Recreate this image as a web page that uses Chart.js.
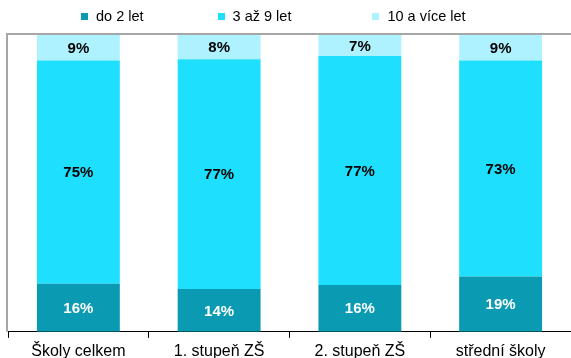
<!DOCTYPE html>
<html><head><meta charset="utf-8">
<script src="https://cdn.jsdelivr.net/npm/chart.js@4.4.0/dist/chart.umd.min.js"></script>
<style>
html,body{margin:0;padding:0;background:#fff;}
#wrap{position:relative;width:571px;height:358px;}
#legend{position:absolute;top:8px;left:81px;display:flex;align-items:center;font-family:"Liberation Sans",Arial,sans-serif;font-size:14.5px;color:#000;}
#legend .it{display:flex;align-items:center;margin-right:74px;}
#legend .it:nth-child(2){margin-right:81px;}
#legend .bx{width:7px;height:7px;margin-right:8px;}
</style></head>
<body><div id="wrap"><canvas id="c" width="571" height="358"></canvas><div id="legend"></div></div>
<script>
const categories = ["Školy celkem", "1. stupeň ZŠ", "2. stupeň ZŠ", "střední školy"];
const seriesNames = ["do 2 let", "3 až 9 let", "10 a více let"];
const do2let = [16.2, 14.4, 15.8, 18.6];
const let3az9 = [75.2, 77.4, 77.1, 72.8];
const let10plus = [8.6, 8.2, 7.1, 8.6];
const colors = ["#0A9BB2", "#1FDFFF", "#AEF2FF"];
const labelColors = ["#ffffff", "#000000", "#000000"];

const leg = document.getElementById('legend');
seriesNames.forEach((n, i) => {
  const it = document.createElement('div'); it.className = 'it';
  const b = document.createElement('div'); b.className = 'bx'; b.style.background = colors[i];
  const t = document.createElement('span'); t.textContent = n;
  it.appendChild(b); it.appendChild(t); leg.appendChild(it);
});

const frame = {
  id: 'frame',
  afterDatasetsDraw(chart) {
    const {ctx, chartArea: a} = chart;
    ctx.save();
    ctx.strokeStyle = '#A6A6A6'; ctx.lineWidth = 2;
    ctx.beginPath();
    ctx.moveTo(a.left - 1, a.bottom); ctx.lineTo(a.left - 1, a.top - 1); ctx.lineTo(a.right, a.top - 1);
    ctx.stroke();
    ctx.restore();
    ctx.save();
    ctx.font = 'bold 15px "Liberation Sans", Arial, sans-serif';
    ctx.textAlign = 'center'; ctx.textBaseline = 'middle';
    chart.data.datasets.forEach((ds, di) => {
      const meta = chart.getDatasetMeta(di);
      ctx.fillStyle = labelColors[di];
      meta.data.forEach((el, i) => {
        const y = (el.y + el.base) / 2;
        ctx.fillText(Math.round(ds.data[i]) + '%', el.x, y + 1);
      });
    });
    ctx.restore();
  }
};

new Chart(document.getElementById('c'), {
  type: 'bar',
  data: {
    labels: categories,
    datasets: [
      {label: seriesNames[0], data: do2let, backgroundColor: colors[0]},
      {label: seriesNames[1], data: let3az9, backgroundColor: colors[1]},
      {label: seriesNames[2], data: let10plus, backgroundColor: colors[2]}
    ]
  },
  options: {
    responsive: false, animation: false,
    layout: {padding: {top: 35, left: 8, right: 0, bottom: -7}},
    datasets: {bar: {barPercentage: 1, categoryPercentage: 0.589, borderWidth: 0}},
    plugins: {legend: {display: false}, tooltip: {enabled: false}},
    scales: {
      x: {
        stacked: true,
        border: {display: true, color: '#000', width: 1},
        grid: {offset: true, drawOnChartArea: false, drawTicks: true, tickLength: 6, color: '#000'},
        ticks: {color: '#000', padding: 4, font: {family: '"Liberation Sans", Arial, sans-serif', size: 16}}
      },
      y: {stacked: true, display: false, min: 0, max: 100}
    }
  },
  plugins: [frame]
});
</script></body></html>
